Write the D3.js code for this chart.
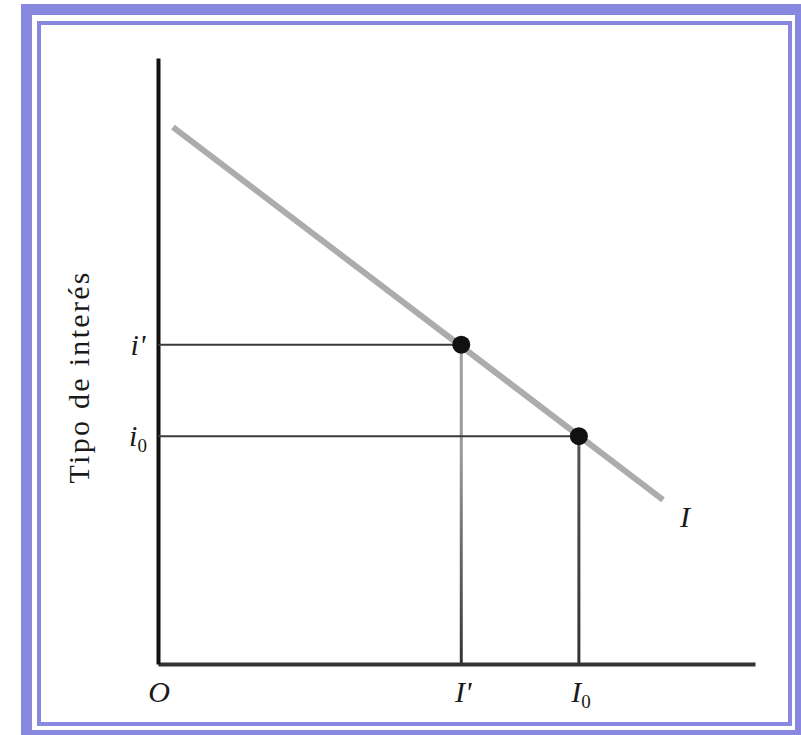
<!DOCTYPE html>
<html>
<head>
<meta charset="utf-8">
<script src="https://cdn.jsdelivr.net/npm/d3@7"></script>
<style>
  html, body { margin: 0; padding: 0; background: #ffffff; }
  svg { display: block; }
  text { font-family: "Liberation Serif", "DejaVu Serif", serif; fill: #1a1a1a; }
</style>
</head>
<body>
<svg id="chart" width="801" height="735"></svg>
<script>
// ---- data (in arbitrary chart units) ----
const investmentLevels = [5.08, 7.05];          // I', I0
const investmentLabels = ["I'", "I0"];
const rateLevels = [5.27, 3.76];                // i', i0
const rateLabels = ["i'", "i0"];
const demandX = [0.25, 8.46];                   // investment demand line I (ends)
const demandY = [8.86, 2.71];
const demandLabel = "I";
const originLabel = "O";
const yAxisTitle = "Tipo de interés";

const svg = d3.select("#chart");

// frame (double blue border)
svg.append("rect").attr("x", 26.5).attr("y", 9.5).attr("width", 774).attr("height", 726)
  .attr("fill", "none").attr("stroke", "#8888e0").attr("stroke-width", 11);
svg.append("rect").attr("x", 39).attr("y", 23).attr("width", 751).attr("height", 701)
  .attr("fill", "none").attr("stroke", "#8888e0").attr("stroke-width", 4);

// scales
const x = d3.scaleLinear().domain([0, 10]).range([158, 755]);
const y = d3.scaleLinear().domain([0, 10]).range([664, 58]);

// axes (plain lines, no ticks)
const xAxis = svg.append("g").attr("transform", `translate(0,${y(0)})`)
  .call(d3.axisBottom(x).tickValues([]).tickSizeOuter(0));
xAxis.select(".domain").attr("stroke", "#333").attr("stroke-width", 4);
const yAxis = svg.append("g").attr("transform", `translate(${x(0)},0)`)
  .call(d3.axisLeft(y).tickValues([]).tickSizeOuter(0));
yAxis.select(".domain").attr("stroke", "#111").attr("stroke-width", 4);

// investment demand line
svg.append("line")
  .attr("x1", x(demandX[0])).attr("y1", y(demandY[0]))
  .attr("x2", x(demandX[1])).attr("y2", y(demandY[1]))
  .attr("stroke", "#acacac").attr("stroke-width", 6);

// gradient for verticals (lighter near the curve, darker toward the axis)
const defs = svg.append("defs");
investmentLevels.forEach((v, i) => {
  const g = defs.append("linearGradient").attr("id", "vg" + i)
    .attr("gradientUnits", "userSpaceOnUse")
    .attr("x1", 0).attr("x2", 0).attr("y1", y(rateLevels[i])).attr("y2", y(0));
  g.append("stop").attr("offset", "0%").attr("stop-color", i === 0 ? "#a0a0a0" : "#555");
  g.append("stop").attr("offset", i === 0 ? "35%" : "50%").attr("stop-color", i === 0 ? "#999" : "#444");
  g.append("stop").attr("offset", "100%").attr("stop-color", "#333");
});

// guide lines
investmentLevels.forEach((v, i) => {
  svg.append("line")
    .attr("x1", x(0)).attr("y1", y(rateLevels[i]))
    .attr("x2", x(v)).attr("y2", y(rateLevels[i]))
    .attr("stroke", "#3a3a3a").attr("stroke-width", 2);
  svg.append("line")
    .attr("x1", x(v)).attr("y1", y(rateLevels[i]))
    .attr("x2", x(v)).attr("y2", y(0))
    .attr("stroke", `url(#vg${i})`).attr("stroke-width", 3);
});

// points
svg.selectAll("circle.pt").data(investmentLevels).join("circle")
  .attr("class", "pt")
  .attr("cx", d => x(d)).attr("cy", (d, i) => y(rateLevels[i]))
  .attr("r", 9).attr("fill", "#111");

// label helper with subscript
function label(txt, px, py, anchor) {
  const t = svg.append("text").attr("x", px).attr("y", py)
    .attr("text-anchor", anchor || "middle")
    .attr("font-size", 30).attr("font-style", "italic");
  if (txt.endsWith("0")) {
    t.append("tspan").text(txt.slice(0, -1));
    t.append("tspan").text("0").attr("font-size", 19).attr("dy", 6).attr("font-style", "normal");
  } else {
    t.text(txt);
  }
  return t;
}

// y labels
rateLevels.forEach((v, i) => label(rateLabels[i], x(0) - 20, y(v) + 10, "middle"));
// x labels
label(originLabel, x(0) + 1, y(0) + 38, "middle");
investmentLevels.forEach((v, i) => label(investmentLabels[i], x(v) + 2, y(0) + 38, "middle"));
// demand curve label
label(demandLabel, x(demandX[1]) + 22, y(demandY[1]) + 27, "middle");

// axis title
svg.append("text")
  .attr("transform", `translate(89,${(y(10) + y(0)) / 2 + 17}) rotate(-90)`)
  .attr("text-anchor", "middle")
  .attr("font-size", 30)
  .attr("textLength", 211).attr("lengthAdjust", "spacing")
  .text(yAxisTitle);
</script>
</body>
</html>
